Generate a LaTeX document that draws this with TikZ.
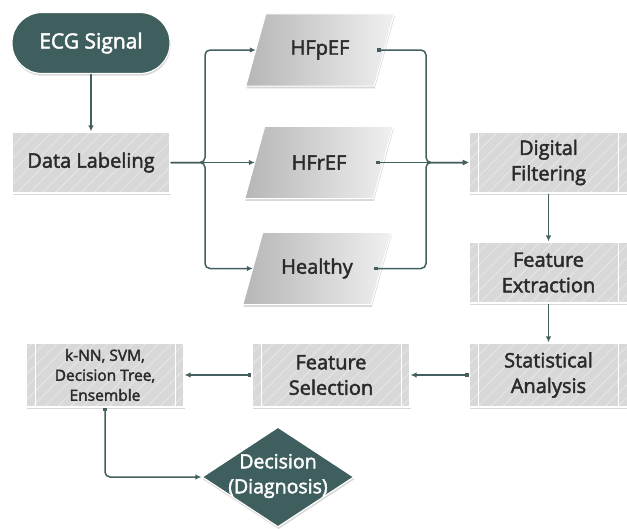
\documentclass[tikz,border=0pt]{standalone}
\usepackage{fontspec}
\setmainfont{Open Sans}
\newfontfamily\semib{Open Sans}[FakeBold=2.2]
\usetikzlibrary{arrows.meta,shapes.geometric,patterns.meta,shadows,backgrounds,calc}
\definecolor{ecgteal}{HTML}{3F5E5E}
\definecolor{lineC}{HTML}{435F5F}
\definecolor{boxfill}{HTML}{D8D8D8}
\definecolor{stripe}{HTML}{E4E4E4}
\definecolor{textC}{HTML}{2A2A2A}
\definecolor{paraDark}{HTML}{B6B6B6}
\definecolor{paraLight}{HTML}{F0F0F0}
\tikzset{
  shadowed/.style={drop shadow={shadow xshift=0.6pt, shadow yshift=-2.2pt, opacity=0.22, fill=black!70}},
  boxbase/.style={rectangle, fill=boxfill, draw=white, line width=1.2pt,
    minimum width=158pt, minimum height=61pt, align=center, text=textC,
    font=\semib\fontsize{20}{25.5}\selectfont, shadowed},
  plainbox/.style={boxbase, path picture={
    \fill[pattern={Lines[angle=45,distance=9pt,line width=1.2pt]}, pattern color=stripe]
      (path picture bounding box.south west) rectangle (path picture bounding box.north east);}},
  procbox/.style={boxbase, path picture={
    \fill[pattern={Lines[angle=45,distance=9pt,line width=1.2pt]}, pattern color=stripe]
      (path picture bounding box.south west) rectangle (path picture bounding box.north east);
    \draw[white, line width=1pt] ([xshift=9pt]path picture bounding box.south west) -- ([xshift=9pt]path picture bounding box.north west);
    \draw[white, line width=1pt] ([xshift=-9pt]path picture bounding box.south east) -- ([xshift=-9pt]path picture bounding box.north east);}},
  term/.style={rectangle, rounded corners=30pt, fill=ecgteal, draw=white, line width=1.2pt,
    minimum width=158pt, minimum height=61pt, text=white,
    font=\semib\fontsize{21}{24}\selectfont, shadowed},
  parabox/.style={rectangle, minimum width=128pt, minimum height=72pt, text=textC,
    font=\semib\fontsize{20}{24}\selectfont},
  parashape/.style={left color=paraDark, right color=paraLight, draw=white, line width=1pt, shadowed},
  decision/.style={diamond, fill=ecgteal, draw=white, line width=1.2pt,
    minimum width=152pt, minimum height=100pt, inner sep=0pt, shadowed},
  dectext/.style={align=center, text=white, font=\semib\fontsize{19.5}{25}\selectfont},
  conn/.style={draw=lineC, line width=1.5pt, rounded corners=5pt,
    -{Latex[length=6pt,width=5.5pt]}},
  dotconn/.style={draw=lineC, line width=1.5pt, rounded corners=5pt,
    {Square[length=3.6pt,width=3.6pt]}-{Latex[length=6pt,width=5.5pt]}}
}
\begin{document}
\begin{tikzpicture}[x=1pt,y=-1pt]
\useasboundingbox (0,0) rectangle (627,528);

\node[term] (ecg) at (91,43) {ECG Signal};
\node[plainbox] (label) at (91,162.5) {Data Labeling};
\node[parabox] (hfpef) at (320,50) {HFpEF};
\node[parabox] (hfref) at (319,162.5) {HFrEF};
\node[parabox] (healthy) at (317,268.5) {Healthy};
\node[procbox] (filt) at (548.5,162.5) {Digital\\Filtering};
\node[procbox] (extr) at (548.5,272.5) {Feature\\Extraction};
\node[procbox, minimum height=64pt] (stat) at (548.5,375) {Statistical\\Analysis};
\node[procbox, minimum height=64pt] (fsel) at (331,375) {Feature\\Selection};
\node[procbox, minimum height=64pt, font=\semib\fontsize{15.5}{20}\selectfont] (clf) at (105,375) {k-NN, SVM,\\Decision Tree,\\Ensemble};
\node[decision] (dec) at (278,477) {};
\node[dectext] (dect) at (278,476) {Decision\\(Diagnosis)};

\begin{scope}[on background layer]
\fill[white] (0,0) rectangle (627,528);
\foreach \n in {hfpef,hfref,healthy}{
  \shade[parashape] ([xshift=10pt]\n.north west) -- ([xshift=10pt]\n.north east)
    -- ([xshift=-10pt]\n.south east) -- ([xshift=-10pt]\n.south west) -- cycle;
}
\end{scope}

\coordinate (j1) at (205,162.5);
\coordinate (j2) at (426,162.5);

\draw[conn] (ecg) -- (label);
\draw[conn] (label.east) -- (j1) |- (hfpef.west);
\draw[conn] (label.east) -- (hfref.west);
\draw[conn] (label.east) -- (j1) |- (healthy.west);

\draw[dotconn] ([xshift=-7pt]hfpef.east) -| (j2) -- (filt.west);
\draw[dotconn] ([xshift=-7pt]hfref.east) -- (filt.west);
\draw[dotconn] ([xshift=-7pt]healthy.east) -| (j2) -- (filt.west);

\draw[conn] (filt) -- (extr);
\draw[conn] (extr) -- (stat);
\draw[dotconn] (stat.west) -- (fsel.east);
\draw[dotconn] (fsel.west) -- (clf.east);
\draw[dotconn] (clf.south) |- (dec.west);
\end{tikzpicture}
\end{document}
